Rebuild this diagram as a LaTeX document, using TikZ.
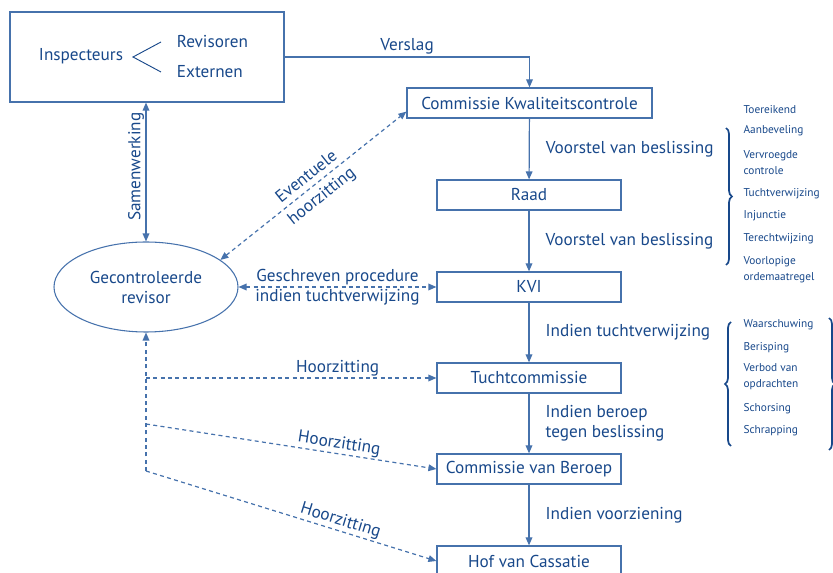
\documentclass[tikz,border=0pt]{standalone}
\usepackage{fontspec}
\setmainfont{PT Sans}
\usetikzlibrary{shapes.geometric,arrows.meta,decorations.pathreplacing}
\definecolor{tekst}{RGB}{24,72,138}
\definecolor{lijn}{RGB}{70,114,172}
\tikzset{
  lbl/.style={text=tekst,font=\fontsize{12.9}{15}\selectfont,inner sep=1pt},
  blok/.style={draw=lijn,line width=0.9pt,minimum width=138pt,minimum height=22.5pt,inner sep=0pt,lbl},
  klein/.style={text=tekst,font=\fontsize{8.5}{12}\selectfont,anchor=west,inner sep=0pt,align=left},
  stip/.style={dash pattern=on 3pt off 2.5pt},
  accolade/.style={draw=tekst,line width=1.3pt,decorate,decoration={brace,amplitude=4.5pt}}
}
\begin{document}
\begin{tikzpicture}[x=0.75pt,y=-0.75pt,>={Triangle[length=6pt,width=5pt]},line width=0.9pt,draw=lijn]
\useasboundingbox (0,0) rectangle (833,573);
% inspectie
\node[blok,minimum width=205.5pt,minimum height=67.5pt] (insp) at (147,57) {};
\node[lbl] (inspt) at (81,56) {Inspecteurs};
\node[lbl,anchor=west] (revi) at (175,42) {Revisoren};
\node[lbl,anchor=west] (ext) at (175,72) {Externen};
\coordinate (vork) at (133,57);
\draw[line width=0.7pt,draw=tekst] ([xshift=-10.5pt]revi.west) -- (vork) -- ([xshift=-10.5pt]ext.west);
% procedure
\node[blok,minimum width=183.75pt] (kwc) at (529.5,103) {Commissie Kwaliteitscontrole};
\node[blok] (raad) at (529,195) {Raad};
\node[blok] (kvi) at (529,287) {KVI};
\node[blok] (tucht) at (529,378) {Tuchtcommissie};
\node[blok] (beroep) at (529,469) {Commissie van Beroep};
\node[blok] (cass) at (529,561) {Hof van Cassatie};
\node[lbl,draw=lijn,line width=0.8pt,ellipse,minimum width=138pt,minimum height=67.5pt,align=center] (rev) at (146,287) {Gecontroleerde\\revisor};
\draw[->] (insp.east) -| (kwc.north) node[lbl,pos=0.25,above=1pt] {Verslag};
\foreach \A/\B/\T in {kwc/raad/{Voorstel van beslissing},raad/kvi/{Voorstel van beslissing},kvi/tucht/{Indien tuchtverwijzing},tucht/beroep/{Indien beroep\\tegen beslissing},beroep/cass/{Indien voorziening}}
  {\draw[->] (\A) -- (\B) node[lbl,midway,right=11pt,align=left] {\T};}
\draw[<->] (insp.south -| rev.north) -- (rev.north) node[lbl,midway,above=4pt,rotate=90] {Samenwerking};
% hoorzittingen
\draw[<->,stip] (rev.20) -- (kwc.184) node[lbl,midway,sloped,above=3pt] {Eventuele} node[lbl,midway,sloped,below=3pt] {hoorzitting};
\draw[<->,stip] (rev.east) -- (kvi.west) node[lbl,midway,above] {Geschreven procedure} node[lbl,midway,below] {indien tuchtverwijzing};
\coordinate (h1) at (146,378); \coordinate (h2) at (146,424); \coordinate (h3) at (146,471);
\draw[->,stip] (h3) -- (rev.south);
\draw[->,stip] (h1) -- (tucht.west) node[lbl,pos=0.66,above] {Hoorzitting};
\draw[->,stip] (h2) -- (beroep.west) node[lbl,pos=0.66,sloped,above] {Hoorzitting};
\draw[->,stip] (h3) -- (cass.west) node[lbl,pos=0.66,sloped,above] {Hoorzitting};
% beslissingen en sancties
\foreach \T/\y [count=\i] in {Toereikend/110,Aanbeveling/131,{Vervroegde\\controle}/163,Tuchtverwijzing/194,Injunctie/216,Terechtwijzing/239,{Voorlopige\\ordemaatregel}/270}
  {\node[klein] (besl\i) at (743,\y) {\T};}
\foreach \T/\y [count=\i] in {Waarschuwing/325,Berisping/348,{Verbod van\\opdrachten}/377,Schorsing/409,Schrapping/431}
  {\node[klein] (sanc\i) at (743,\y) {\T};}
\draw[accolade] (726,128) -- (726,265);
\draw[accolade] (731,446) -- (731,322);
\draw[accolade] (829,318) -- (829,450);
\end{tikzpicture}
\end{document}
